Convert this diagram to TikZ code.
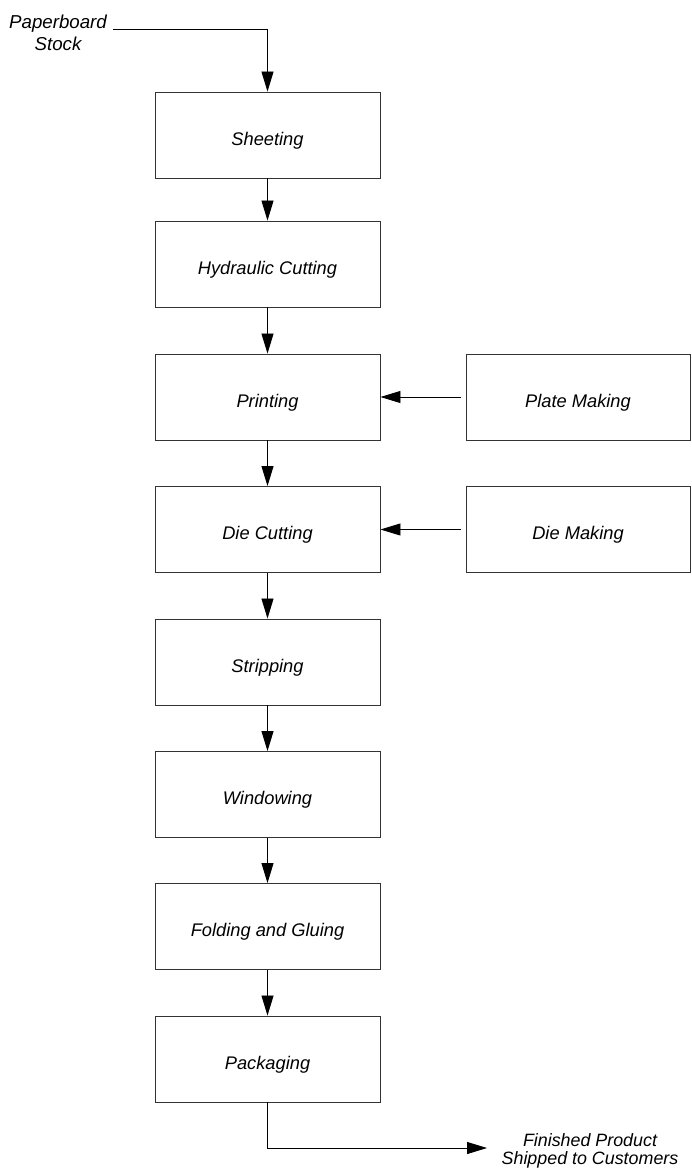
\documentclass[tikz,border=0pt]{standalone}
\usepackage{fontspec}
\setmainfont{Liberation Sans}
\usetikzlibrary{arrows.meta}

\begin{document}
\begin{tikzpicture}[x=0.025cm,y=-0.025cm,
  stage/.style={draw=black!80,line width=0.6pt,minimum width=5.625cm,minimum height=2.15cm,
    text height=0.5cm,text depth=0pt,font=\fontsize{13}{15}\selectfont\itshape},
  aux/.style={stage,minimum width=5.6cm},
  label/.style={align=center,font=\fontsize{13.3}{16}\selectfont\itshape},
  flow/.style={line width=0.6pt,-{Triangle[length=0.5cm,width=0.3cm]}}]
\useasboundingbox (0,0) rectangle (691,1174);
% main line
\node[stage] (sheet) at (267.5,135) {Sheeting};
\node[stage] (hyd) at (267.5,264) {Hydraulic Cutting};
\node[stage] (print) at (267.5,397) {Printing};
\node[stage] (die) at (267.5,529.5) {Die Cutting};
\node[stage] (strip) at (267.5,662) {Stripping};
\node[stage] (wind) at (267.5,794.5) {Windowing};
\node[stage] (fold) at (267.5,926.5) {Folding and Gluing};
\node[stage] (pack) at (267.5,1059) {Packaging};
% side boxes
\node[aux] (plate) at (578,397) {Plate Making};
\node[aux] (diemk) at (578,529.5) {Die Making};
% in and out
\node[label] (stock) at (58,33) {Paperboard\\Stock};
\coordinate (src) at (113,29);
\node[label,font=\fontsize{12.7}{13}\selectfont\itshape] (ship) at (590,1151) {Finished Product\\Shipped to Customers};
\coordinate (out) at (487,1148);

\draw[flow] (src) -| (sheet.north);
\foreach \a/\b in {sheet/hyd,hyd/print,print/die,die/strip,strip/wind,wind/fold,fold/pack}
  \draw[flow] (\a.south) -- (\b.north);
\draw[flow,shorten <=0.125cm] (plate.west) -- (print.east);
\draw[flow,shorten <=0.125cm] (diemk.west) -- (die.east);
\draw[flow] (pack.south) |- (out);
\end{tikzpicture}
\end{document}
